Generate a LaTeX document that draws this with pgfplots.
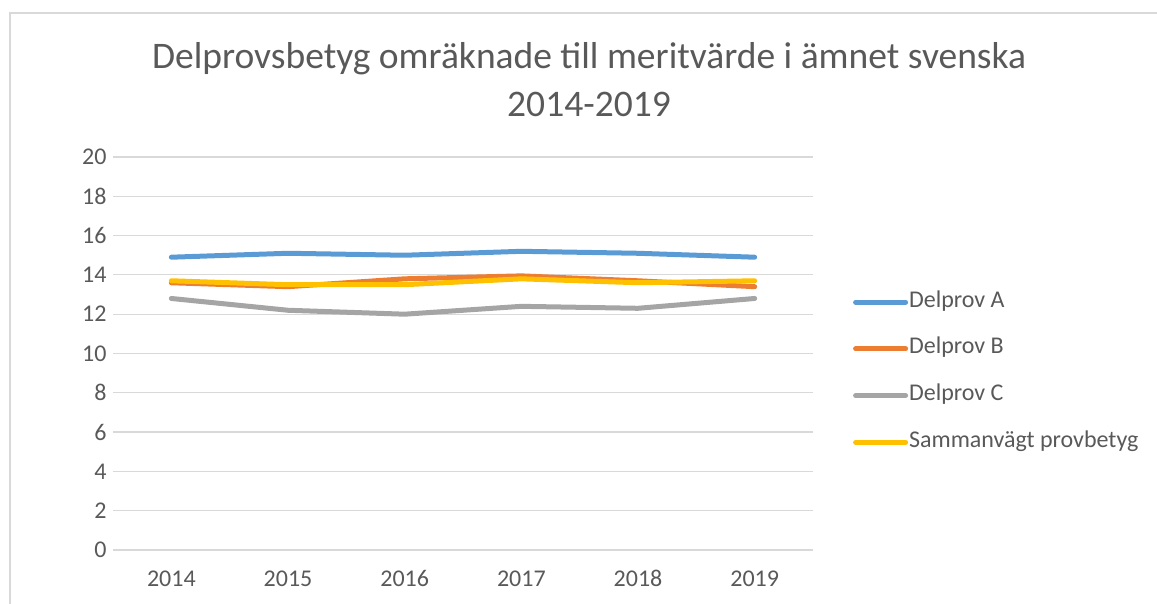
\documentclass[border=0pt]{standalone}
\usepackage{fontspec}
\setmainfont{Carlito}
\usepackage{pgfplots}
\pgfplotsset{compat=1.18}
\definecolor{cA}{HTML}{5B9BD5}
\definecolor{cB}{HTML}{ED7D31}
\definecolor{cC}{HTML}{A5A5A5}
\definecolor{cD}{HTML}{FFC000}
\definecolor{gridc}{HTML}{D9D9D9}
\definecolor{txt}{HTML}{595959}
\begin{document}
\begin{tikzpicture}[x=1pt,y=1pt]
\path[use as bounding box] (0,0) rectangle (1157,604);
\draw[gridc, line width=1.2pt] (10,-10) -- (10,591) -- (1170,591);
\node[txt, align=center, font=\fontsize{37.5}{48}\selectfont] at (589,524) {Delprovsbetyg omräknade till meritvärde i ämnet svenska\\2014-2019};
\begin{axis}[
  at={(113pt,54pt)}, anchor=south west,
  scale only axis, width=700pt, height=393pt,
  xmin=-0.5, xmax=5.5, ymin=0, ymax=20,
  ytick={0,2,...,20},
  xtick={0,1,2,3,4,5},
  xticklabels={2014,2015,2016,2017,2018,2019},
  ymajorgrids,
  grid style={gridc, line width=1.2pt},
  axis line style={draw=none},
  major tick length=0pt,
  /pgf/number format/assume math mode=true,
  tick label style={txt, font=\fontsize{24}{28}\selectfont},
  yticklabel style={xshift=-3pt},
  xticklabel style={yshift=-17pt},
  legend style={at={(1.057,0.659)}, anchor=north west, draw=none, fill=none,
    font=\fontsize{24}{28}\selectfont, text=txt,
    row sep=24.7pt, inner sep=0pt,
    nodes={inner sep=1pt, anchor=west, text height=15pt, text depth=5pt}},
  legend cell align=left,
  legend image code/.code={\draw[#1, line width=5pt, line cap=round] (2pt,0pt)--(52pt,0pt);},
  every axis plot/.append style={line width=5pt, line join=round, line cap=round},
]
\addplot[cA] coordinates {(0,14.9) (1,15.1) (2,15.0) (3,15.2) (4,15.1) (5,14.9)};
\addlegendentry{Delprov A}
\addplot[cB] coordinates {(0,13.6) (1,13.4) (2,13.8) (3,13.95) (4,13.7) (5,13.4)};
\addlegendentry{Delprov B}
\addplot[cC] coordinates {(0,12.8) (1,12.2) (2,12.0) (3,12.4) (4,12.3) (5,12.8)};
\addlegendentry{Delprov C}
\addplot[cD] coordinates {(0,13.7) (1,13.5) (2,13.5) (3,13.8) (4,13.6) (5,13.7)};
\addlegendentry{Sammanvägt provbetyg}
\node[txt, rotate=90, font=\fontsize{25}{29}\selectfont] at (rel axis cs:-0.076,0.5) {Meritvärde};
\end{axis}
\end{tikzpicture}
\end{document}
